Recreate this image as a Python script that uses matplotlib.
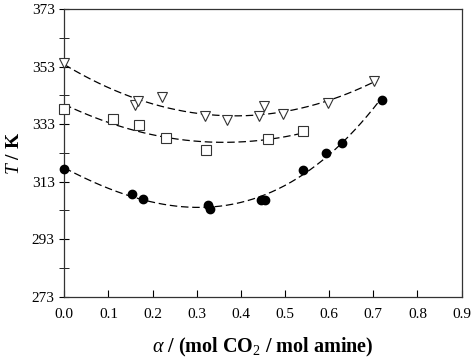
import numpy as np
import matplotlib.pyplot as plt
from matplotlib.ticker import FixedLocator

plt.rcParams['font.family'] = ['Liberation Serif', 'DejaVu Serif']
plt.rcParams['mathtext.fontset'] = 'custom'
plt.rcParams['mathtext.rm'] = 'Liberation Serif'
plt.rcParams['mathtext.it'] = 'Liberation Serif:italic'
plt.rcParams['mathtext.bf'] = 'Liberation Serif:bold'

# triangles (highest series)
tri_x = [0.0, 0.160, 0.168, 0.221, 0.319, 0.368, 0.441, 0.452, 0.496, 0.598, 0.701]
tri_y = [354.2, 339.7, 341.1, 342.4, 335.9, 334.5, 335.9, 339.4, 336.5, 340.3, 348.0]

# squares (middle series)
sq_x = [0.0, 0.110, 0.170, 0.230, 0.321, 0.461, 0.540]
sq_y = [338.3, 334.8, 332.7, 328.1, 324.0, 327.7, 330.7]

# filled circles (lowest series)
circ_x = [0.0, 0.153, 0.178, 0.326, 0.330, 0.446, 0.455, 0.540, 0.592, 0.630, 0.719]
circ_y = [317.4, 308.7, 307.0, 304.9, 303.5, 306.6, 306.6, 317.1, 323.1, 326.4, 341.4]

y_major = [273, 293, 313, 333, 353, 373]
y_minor = [283, 303, 323, 343, 363]


def trend(x, y, deg):
    c = np.polyfit(x, y, deg)
    xs = np.linspace(min(x), max(x), 200)
    return xs, np.polyval(c, xs)


fig = plt.figure(figsize=(4.71, 3.61), dpi=100)
ax = fig.add_axes([0.1365, 0.178, 0.8435, 0.7965])

dash = (0, (6, 3))
for x, y, deg in ((tri_x, tri_y, 2), (sq_x, sq_y, 2), (circ_x, circ_y, 3)):
    xs, ys = trend(x, y, deg)
    ax.plot(xs, ys, color='black', lw=0.9, linestyle=dash)

ax.plot(tri_x, tri_y, 'v', ms=7, mfc='white', mec='#333333', mew=0.8, ls='none',
        clip_on=False, zorder=3)
ax.plot(sq_x, sq_y, 's', ms=6.5, mfc='white', mec='#333333', mew=0.8, ls='none',
        clip_on=False, zorder=3)
ax.plot(circ_x, circ_y, 'o', ms=6, mfc='black', mec='black', ls='none',
        clip_on=False, zorder=3)

ax.set_xlim(0, 0.9)
ax.set_ylim(273, 373)
ax.set_xticks(np.arange(0, 0.91, 0.1))
ax.set_xticklabels([f'{v:.1f}' for v in np.arange(0, 0.91, 0.1)])
ax.set_yticks(y_major)
ax.yaxis.set_minor_locator(FixedLocator(y_minor))
ax.tick_params(axis='x', direction='in', length=5, labelsize=11, pad=8)
ax.tick_params(axis='y', which='both', direction='inout', length=7, labelsize=11)
for s in ax.spines.values():
    s.set_linewidth(0.9)
    s.set_color('#333333')

ax.set_xlabel(r'$\alpha$ / (mol CO$_\mathrm{2}$ / mol amine)', fontsize=14.5,
              fontweight='bold', labelpad=11)
ax.set_ylabel(r'$\mathbf{\mathit{T}}$ / K', fontsize=14, fontweight='bold', labelpad=6)

fig.savefig('out.png', dpi=100)
